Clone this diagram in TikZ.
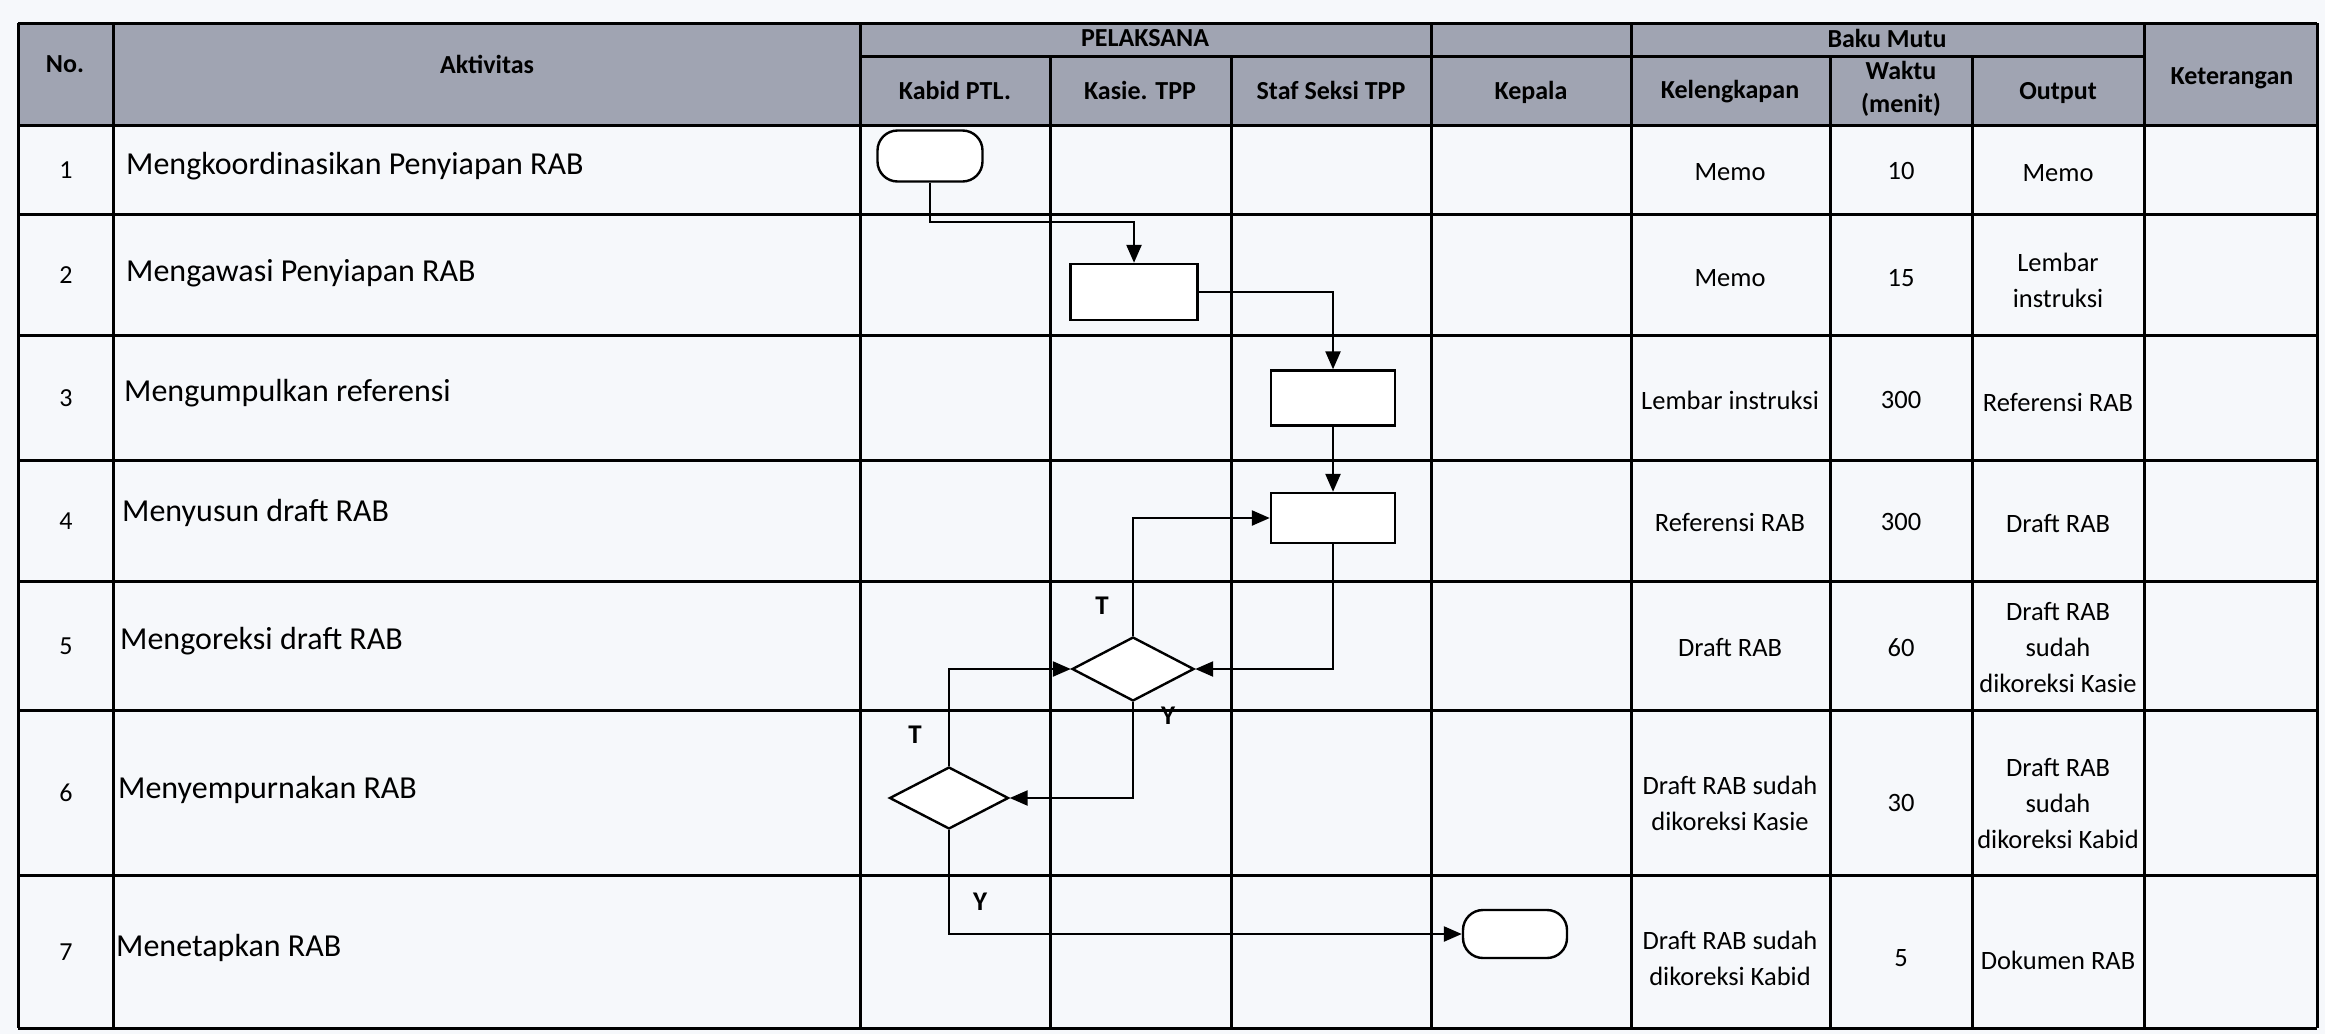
\documentclass[tikz,border=0pt]{standalone}
\usepackage{fontspec}
\setmainfont{Carlito}
\usetikzlibrary{arrows.meta,shapes.geometric}
\definecolor{hdr}{RGB}{160,164,178}
\definecolor{paper}{RGB}{246,248,251}
\tikzset{
  grid/.style={line width=3pt,black},
  hd/.style={font=\fontsize{26}{33}\selectfont\bfseries,align=center,inner sep=0pt},
  val/.style={font=\fontsize{26.5}{36}\selectfont,align=center,inner sep=0pt},
  act/.style={font=\fontsize{32}{38}\selectfont,anchor=west,inner sep=0pt},
  num/.style={font=\fontsize{26}{30}\selectfont,inner sep=0pt},
  lbl/.style={font=\fontsize{27}{30}\selectfont\bfseries,inner sep=0pt},
  fl/.style={draw,line width=2.4pt,inner sep=0pt,fill=white},
  procbox/.style={fl,rectangle,minimum width=124pt,minimum height=54pt},
  term/.style={fl,rectangle,rounded corners=20pt},
  dec/.style={fl,diamond,minimum width=122pt,minimum height=64pt},
  arr/.style={line width=2.4pt,-{Triangle[length=18pt,width=15pt]}}
}
\begin{document}
\begin{tikzpicture}[x=1pt,y=-1pt]
\useasboundingbox (0,0) rectangle (2325,1034);
\fill[paper] (0,0) rectangle (2325,1034);
% header fill
\fill[hdr] (18,23) rectangle (2317,125);
% horizontal lines
\draw[grid] (18,23) -- (2317,23);
\draw[grid] (860,56) -- (2144,56);
\foreach \y in {125,214,335,460,581,710,875,1028}
  \draw[grid] (18,\y) -- (2317,\y);
% vertical lines
\foreach \x in {18,113,860,1431,1631,2144,2317}
  \draw[grid] (\x,23) -- (\x,1028);
\foreach \x in {1050,1231,1830,1972}
  \draw[grid] (\x,56) -- (\x,1028);
% header texts
\node[hd] (hNo) at (65,64) {No.};
\node[hd] (hAkt) at (487,64) {Aktivitas};
\node[hd] (hPel) at (1145,38) {PELAKSANA};
\node[hd] (hKab) at (955,90) {Kabid PTL.};
\node[hd] (hKas) at (1140,90) {Kasie. TPP};
\node[hd] (hStaf) at (1331,90) {Staf Seksi TPP};
\node[hd] (hKep) at (1531,92) {Kepala};
\node[hd] (hBaku) at (1887,38) {Baku Mutu};
\node[hd] (hKel) at (1730,92) {Kelengkapan};
\node[hd] (hWak) at (1901,89) {Waktu\\(menit)};
\node[hd] (hOut) at (2058,93) {Output};
\node[hd] (hKet) at (2232,78) {Keterangan};
% rows
\node[num] (n1) at (66,170) {1};
\node[num] (n2) at (66,275) {2};
\node[num] (n3) at (66,398) {3};
\node[num] (n4) at (66,521) {4};
\node[num] (n5) at (66,646) {5};
\node[num] (n6) at (66,793) {6};
\node[num] (n7) at (66,952) {7};
\node[act] (a1) at (126,166) {Mengkoordinasikan Penyiapan RAB};
\node[act] (a2) at (126,273) {Mengawasi Penyiapan RAB};
\node[act] (a3) at (124,393) {Mengumpulkan referensi};
\node[act] (a4) at (122,513) {Menyusun draft RAB};
\node[act] (a5) at (120,641) {Mengoreksi draft RAB};
\node[act] (a6) at (118,790) {Menyempurnakan RAB};
\node[act] (a7) at (116,948) {Menetapkan RAB};
% Baku mutu values
\node[val] (k1) at (1730,172) {Memo};
\node[val] (w1) at (1901,171) {10};
\node[val] (o1) at (2058,173) {Memo};
\node[val] (k2) at (1730,278) {Memo};
\node[val] (w2) at (1901,278) {15};
\node[val] (o2) at (2058,280) {Lembar\\instruksi};
\node[val] (k3) at (1730,400) {Lembar instruksi};
\node[val] (w3) at (1901,400) {300};
\node[val] (o3) at (2058,402) {Referensi RAB};
\node[val] (k4) at (1730,522) {Referensi RAB};
\node[val] (w4) at (1901,522) {300};
\node[val] (o4) at (2058,524) {Draft RAB};
\node[val] (k5) at (1730,648) {Draft RAB};
\node[val] (w5) at (1901,648) {60};
\node[val] (o5) at (2058,648) {Draft RAB\\sudah\\dikoreksi Kasie};
\node[val] (k6) at (1730,803) {Draft RAB sudah\\dikoreksi Kasie};
\node[val] (w6) at (1901,803) {30};
\node[val] (o6) at (2058,803) {Draft RAB\\sudah\\dikoreksi Kabid};
\node[val] (k7) at (1730,958) {Draft RAB sudah\\dikoreksi Kabid};
\node[val] (w7) at (1901,958) {5};
\node[val] (o7) at (2058,960) {Dokumen RAB};
% flowchart shapes
\node[term,minimum width=105pt,minimum height=51pt] (start) at (930,156) {};
\node[procbox,minimum width=127pt,minimum height=56pt] (b2) at (1134,292) {};
\node[procbox,minimum height=55pt] (b3) at (1333,398) {};
\node[procbox,minimum height=50pt] (b4) at (1333,518) {};
\node[dec] (d1) at (1133,669) {};
\node[dec,minimum width=119pt,minimum height=62pt] (d2) at (949,798) {};
\node[term,minimum width=104pt,minimum height=48pt] (end) at (1515,934) {};
% connectors
\draw[arr] (start.south) |- (1134,222) -- (b2.north);
\draw[arr] (b2.east) -| (b3.north);
\draw[arr] (b3.south) -- (b4.north);
\draw[arr] (b4.south) |- (d1.east);
\draw[arr] (d1.north) |- (b4.west);
\draw[arr] (d1.south) |- (d2.east);
\draw[arr] (d2.north) |- (d1.west);
\draw[arr] (d2.south) |- (end.west);
% labels
\node[lbl] (t1) at (1102,606) {T};
\node[lbl] (y1) at (1168,716) {Y};
\node[lbl] (t2) at (915,735) {T};
\node[lbl] (y2) at (980,902) {Y};
\end{tikzpicture}
\end{document}
